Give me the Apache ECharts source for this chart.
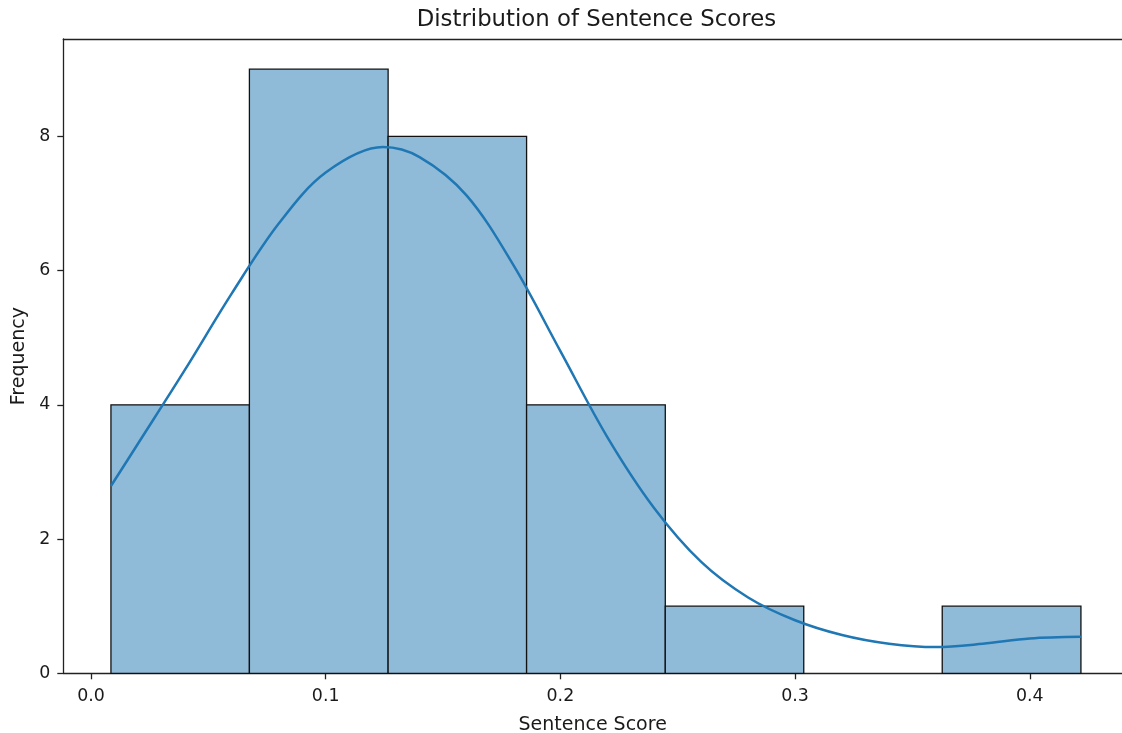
<!DOCTYPE html>
<html>
<head>
<meta charset="utf-8">
<title>Distribution of Sentence Scores</title>
<script src="https://cdn.jsdelivr.net/npm/echarts@6/dist/echarts.min.js"></script>
<style>
  html, body { margin: 0; padding: 0; background: #fff; }
  #chart { width: 1122px; height: 733px; }
</style>
</head>
<body>
<div id="chart"></div>
<script>
// Histogram bin edges (sentence score) and counts per bin
const binEdges = [0.0085, 0.0675, 0.1266, 0.1856, 0.2447, 0.3037, 0.3627, 0.4218];
const binCounts = [4, 9, 8, 4, 1, 0, 1];

// Kernel density estimate, scaled to counts
const kdeX = [0.0085, 0.02, 0.04, 0.06, 0.08, 0.10, 0.1244, 0.14, 0.16, 0.18,
              0.20, 0.22, 0.24, 0.26, 0.28, 0.30, 0.32, 0.34, 0.36, 0.38,
              0.40, 0.4218];
const kdeY = [2.79, 3.42, 4.52, 5.66, 6.70, 7.46, 7.84, 7.69, 7.12, 6.08,
              4.80, 3.52, 2.46, 1.66, 1.13, 0.79, 0.57, 0.44, 0.39, 0.44,
              0.52, 0.545];

// Tick positions
const xTicks = [0.0, 0.1, 0.2, 0.3, 0.4];
const yTicks = [0, 2, 4, 6, 8];

const titleText = 'Distribution of Sentence Scores';
const xName = 'Sentence Score';
const yName = 'Frequency';

const FONT = 'DejaVu Sans';
const INK = '#1a1a1a';
const SPINE = '#222';

const bins = [];
for (let i = 0; i < binCounts.length; i++) {
  if (binCounts[i] > 0) bins.push([binEdges[i], binEdges[i + 1], binCounts[i]]);
}
const kde = kdeX.map((x, i) => [x, kdeY[i]]);

const X_MIN = -0.0118, X_MAX = 0.4393;
const gridLeft = 63.3, gridTop = 39, gridRight = 0, gridBottom = 59.7;
// horizontal centre of the full axes box (its right edge lies just past the canvas)
const axesCentre = gridLeft + (0.4425 - X_MIN) / (X_MAX - X_MIN) * (1122 - gridLeft) / 2;

const chart = echarts.init(document.getElementById('chart'), null, { renderer: 'canvas' });

chart.setOption({
  animation: false,
  backgroundColor: '#fff',
  graphic: [{
    type: 'text',
    x: axesCentre,
    y: 20,
    style: {
      text: titleText,
      font: '22.8px "' + FONT + '"',
      fill: INK,
      textAlign: 'center',
      textVerticalAlign: 'middle'
    }
  }],
  grid: {
    left: gridLeft, right: gridRight, top: gridTop, bottom: gridBottom,
    show: false,
    containLabel: false,
    outerBoundsMode: 'none'
  },
  xAxis: [{
    type: 'value',
    min: X_MIN,
    max: X_MAX,
    name: xName,
    nameLocation: 'middle',
    nameGap: 42,
    nameTextStyle: { fontFamily: FONT, fontSize: 19, color: INK },
    splitLine: { show: false },
    axisLine: { show: true, onZero: false, lineStyle: { color: SPINE, width: 1.3 } },
    axisTick: { show: true, customValues: xTicks, length: 6, lineStyle: { color: SPINE, width: 1.3 } },
    axisLabel: {
      customValues: xTicks,
      formatter: v => v.toFixed(1),
      fontFamily: FONT, fontSize: 17.4, color: INK, margin: 15
    }
  }, {
    // top spine
    type: 'value',
    position: 'top',
    min: X_MIN,
    max: X_MAX,
    splitLine: { show: false },
    axisLine: { show: true, onZero: false, lineStyle: { color: SPINE, width: 1.3 } },
    axisTick: { show: false },
    axisLabel: { show: false }
  }],
  yAxis: {
    type: 'value',
    min: 0,
    max: 9.45,
    name: yName,
    nameLocation: 'middle',
    nameRotate: 90,
    nameGap: 34,
    nameTextStyle: { fontFamily: FONT, fontSize: 19, color: INK },
    splitLine: { show: false },
    axisLine: { show: true, onZero: false, lineStyle: { color: SPINE, width: 1.3 } },
    axisTick: { show: true, customValues: yTicks, length: 6, lineStyle: { color: SPINE, width: 1.3 } },
    axisLabel: {
      customValues: yTicks,
      formatter: v => String(v),
      fontFamily: FONT, fontSize: 17.4, color: INK, margin: 13
    }
  },
  series: [
    {
      type: 'custom',
      name: 'count',
      data: bins,
      encode: { x: [0, 1], y: 2 },
      z: 2,
      renderItem: function (params, api) {
        const lo = api.value(0), hi = api.value(1), c = api.value(2);
        const pTop = api.coord([lo, c]);
        const pBot = api.coord([hi, 0]);
        return {
          type: 'rect',
          shape: { x: pTop[0], y: pTop[1], width: pBot[0] - pTop[0], height: pBot[1] - pTop[1] },
          style: { fill: '#8fbbd9', stroke: '#111', lineWidth: 1.3 }
        };
      }
    },
    {
      type: 'line',
      name: 'density',
      data: kde,
      z: 3,
      smooth: 0.34,
      showSymbol: false,
      symbol: 'none',
      lineStyle: { color: '#1f77b4', width: 2.5 }
    }
  ]
});
</script>
</body>
</html>
